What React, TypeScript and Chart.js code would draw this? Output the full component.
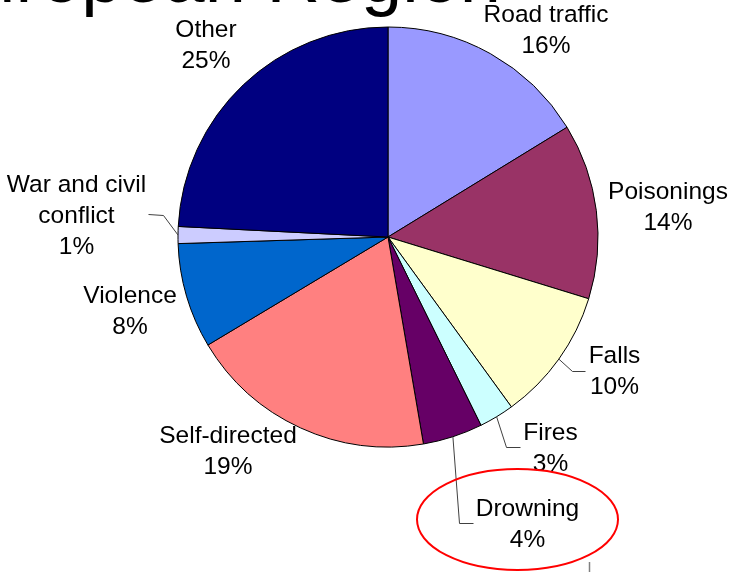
import React, { useEffect, useRef } from "react";
import { Chart, registerables } from "chart.js";

Chart.register(...registerables);

// ---- data ----
const categories = [
  "Road traffic",
  "Poisonings",
  "Falls",
  "Fires",
  "Drowning",
  "Self-directed",
  "Violence",
  "War and civil conflict",
  "Other",
];
const shares = [16.25, 13.5, 10.25, 2.7, 4.6, 19.1, 8.1, 1.3, 24.2];
const percentLabels = ["16%", "14%", "10%", "3%", "4%", "19%", "8%", "1%", "25%"];
const nameLines = [
  ["Road traffic"],
  ["Poisonings"],
  ["Falls"],
  ["Fires"],
  ["Drowning"],
  ["Self-directed"],
  ["Violence"],
  ["War and civil", "conflict"],
  ["Other"],
];
const titleText = "European Region";
const highlightedIndex = 4;

// ---- styles / layout ----
const colors = [
  "#9999FF",
  "#993366",
  "#FFFFCC",
  "#CCFFFF",
  "#660066",
  "#FF8080",
  "#0066CC",
  "#CCCCFF",
  "#000080",
];
// label first-baseline position relative to pie centre
const labelOffsets: [number, number][] = [
  [158, -215],
  [280, -38],
  [226.5, 126],
  [162.5, 203],
  [139.5, 279],
  [-160, 206],
  [-258, 66],
  [-311.5, -45],
  [-182, -200.5],
];
// leader line bends (relative to pie centre), starting from slice mid edge
const leaders: Record<number, [number, number][]> = {
  2: [
    [184, 134],
    [197, 134],
  ],
  3: [
    [118, 210],
    [132, 210],
  ],
  4: [
    [71, 286],
    [85, 286],
  ],
  7: [
    [-225, -22],
    [-240, -23],
  ],
};
const FONT = "'Liberation Sans', Arial, sans-serif";

const overlayPlugin = {
  id: "overlay",
  afterDraw(chart: any) {
    const ctx = chart.ctx as CanvasRenderingContext2D;
    const meta = chart.getDatasetMeta(0);
    const arcs = meta.data;
    if (!arcs.length) return;
    const p0 = arcs[0].getProps(["x", "y"], true);
    const cx = p0.x;
    const cy = p0.y;

    ctx.save();
    // clipped title
    ctx.fillStyle = "#000";
    ctx.font = `74px ${FONT}`;
    ctx.textAlign = "left";
    ctx.textBaseline = "alphabetic";
    ctx.fillText(titleText, -75, 2);

    // leader lines
    ctx.strokeStyle = "#404040";
    ctx.lineWidth = 1;
    Object.keys(leaders).forEach((k) => {
      const i = Number(k);
      const a = arcs[i].getProps(["startAngle", "endAngle", "outerRadius"], true);
      const mid = (a.startAngle + a.endAngle) / 2;
      const sx = cx + Math.cos(mid) * a.outerRadius;
      const sy = cy + Math.sin(mid) * a.outerRadius;
      ctx.beginPath();
      ctx.moveTo(sx, sy);
      leaders[i].forEach(([dx, dy]) => ctx.lineTo(cx + dx + 0.5, cy + dy + 0.5));
      ctx.stroke();
    });

    // labels
    ctx.fillStyle = "#000";
    ctx.font = `24.5px ${FONT}`;
    ctx.textAlign = "center";
    const lh = 31;
    categories.forEach((_, i) => {
      const [dx, dy] = labelOffsets[i];
      const lines = [...nameLines[i], percentLabels[i]];
      lines.forEach((t, j) => ctx.fillText(t, cx + dx, cy + dy + j * lh));
    });

    // red highlight ellipse
    const [hx, hy] = labelOffsets[highlightedIndex];
    ctx.strokeStyle = "#FF0000";
    ctx.lineWidth = 2;
    ctx.beginPath();
    ctx.ellipse(cx + hx - 10, cy + hy + 3.5, 100.5, 50.5, 0, 0, Math.PI * 2);
    ctx.stroke();

    // small grey tick at bottom
    ctx.strokeStyle = "#808080";
    ctx.lineWidth = 1.5;
    ctx.beginPath();
    ctx.moveTo(589.5, 562);
    ctx.lineTo(589.5, 572);
    ctx.stroke();
    ctx.restore();
  },
};

export default function App() {
  const ref = useRef<HTMLCanvasElement | null>(null);
  useEffect(() => {
    if (!ref.current) return;
    const chart = new Chart(ref.current, {
      type: "pie",
      data: {
        labels: categories,
        datasets: [
          {
            data: shares,
            backgroundColor: colors,
            borderColor: "#000",
            borderWidth: 1,
            hoverOffset: 0,
          },
        ],
      },
      options: {
        responsive: false,
        animation: false,
        radius: 210,
        layout: { padding: { left: 45, right: 0, top: 0, bottom: 98 } },
        plugins: {
          legend: { display: false },
          tooltip: { enabled: false },
        },
        events: [],
      } as any,
      plugins: [overlayPlugin],
    });
    return () => chart.destroy();
  }, []);
  return (
    <div
      style={{
        position: "fixed",
        left: 0,
        top: 0,
        width: 731,
        height: 572,
        background: "#fff",
      }}
    >
      <canvas ref={ref} width={731} height={572} />
    </div>
  );
}
